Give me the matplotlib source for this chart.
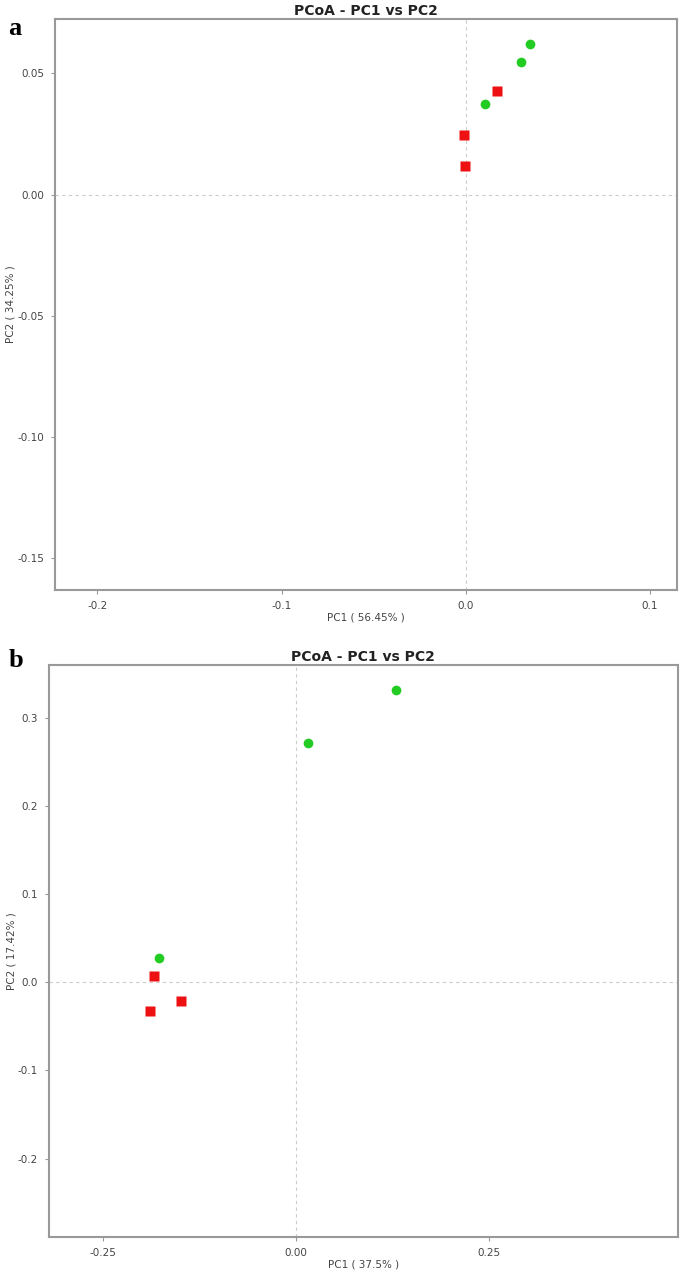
import matplotlib
matplotlib.use('Agg')
import matplotlib.pyplot as plt

# Panel a data
a_green_x = [0.0348, 0.0299, 0.0103]
a_green_y = [0.0620, 0.0545, 0.0372]
a_red_x = [0.0168, -0.0010, -0.0005]
a_red_y = [0.0426, 0.0244, 0.0116]
a_xticks = [-0.2, -0.1, 0.0, 0.1]
a_xticklabels = ['-0.2', '-0.1', '0.0', '0.1']
a_yticks = [0.05, 0.0, -0.05, -0.10, -0.15]
a_yticklabels = ['0.05', '0.00', '-0.05', '-0.10', '-0.15']

# Panel b data
b_green_x = [0.1295, 0.0155, -0.177]
b_green_y = [0.331, 0.272, 0.028]
b_red_x = [-0.184, -0.149, -0.189]
b_red_y = [0.007, -0.0216, -0.033]
b_xticks = [-0.25, 0.0, 0.25]
b_xticklabels = ['-0.25', '0.00', '0.25']
b_yticks = [0.3, 0.2, 0.1, 0.0, -0.1, -0.2]
b_yticklabels = ['0.3', '0.2', '0.1', '0.0', '-0.1', '-0.2']

fig = plt.figure(figsize=(6.85, 12.77), dpi=100)
ax_a = fig.add_axes([0.0803, 0.538, 0.908, 0.447])
ax_b = fig.add_axes([0.0715, 0.0313, 0.918, 0.448])

grey = '#999999'
txt = '#444444'


def style(ax, xlim, ylim, xticks, xlabels, yticks, ylabels, xlab, ylab):
    ax.axvline(0, color='#cccccc', ls=(0, (3, 3)), lw=0.8, zorder=1)
    ax.axhline(0, color='#cccccc', ls=(0, (3, 3)), lw=0.8, zorder=1)
    ax.set_xlim(xlim)
    ax.set_ylim(ylim)
    ax.set_xticks(xticks)
    ax.set_xticklabels(xlabels)
    ax.set_yticks(yticks)
    ax.set_yticklabels(ylabels)
    for s in ax.spines.values():
        s.set_color(grey)
        s.set_linewidth(1.5)
    ax.tick_params(length=3, width=0.8, color=grey, labelsize=7.5, labelcolor=txt, pad=5)
    ax.set_title('PCoA - PC1 vs PC2', fontsize=10, fontweight='bold', color='#222222', pad=3)
    ax.set_xlabel(xlab, fontsize=7.5, color=txt, labelpad=1)
    ax.set_ylabel(ylab, fontsize=7.5, color=txt, labelpad=1)


ax_a.plot(a_green_x, a_green_y, 'o', color='#22cc22', ms=7, mec='none', zorder=3)
ax_a.plot(a_red_x, a_red_y, 's', color='#ee1111', ms=7, mec='none', zorder=3)
style(ax_a, (-0.223, 0.1147), (-0.163, 0.0723), a_xticks, a_xticklabels,
      a_yticks, a_yticklabels, 'PC1 ( 56.45% )', 'PC2 ( 34.25% )')

ax_b.plot(b_green_x, b_green_y, 'o', color='#22cc22', ms=7, mec='none', zorder=3)
ax_b.plot(b_red_x, b_red_y, 's', color='#ee1111', ms=7, mec='none', zorder=3)
style(ax_b, (-0.32, 0.495), (-0.289, 0.360), b_xticks, b_xticklabels,
      b_yticks, b_yticklabels, 'PC1 ( 37.5% )', 'PC2 ( 17.42% )')

fig.text(0.012, 0.978, 'a', fontsize=19, fontweight='bold', family='Liberation Serif', va='center')
fig.text(0.012, 0.483, 'b', fontsize=19, fontweight='bold', family='Liberation Serif', va='center')

fig.savefig('out.png', dpi=100)
